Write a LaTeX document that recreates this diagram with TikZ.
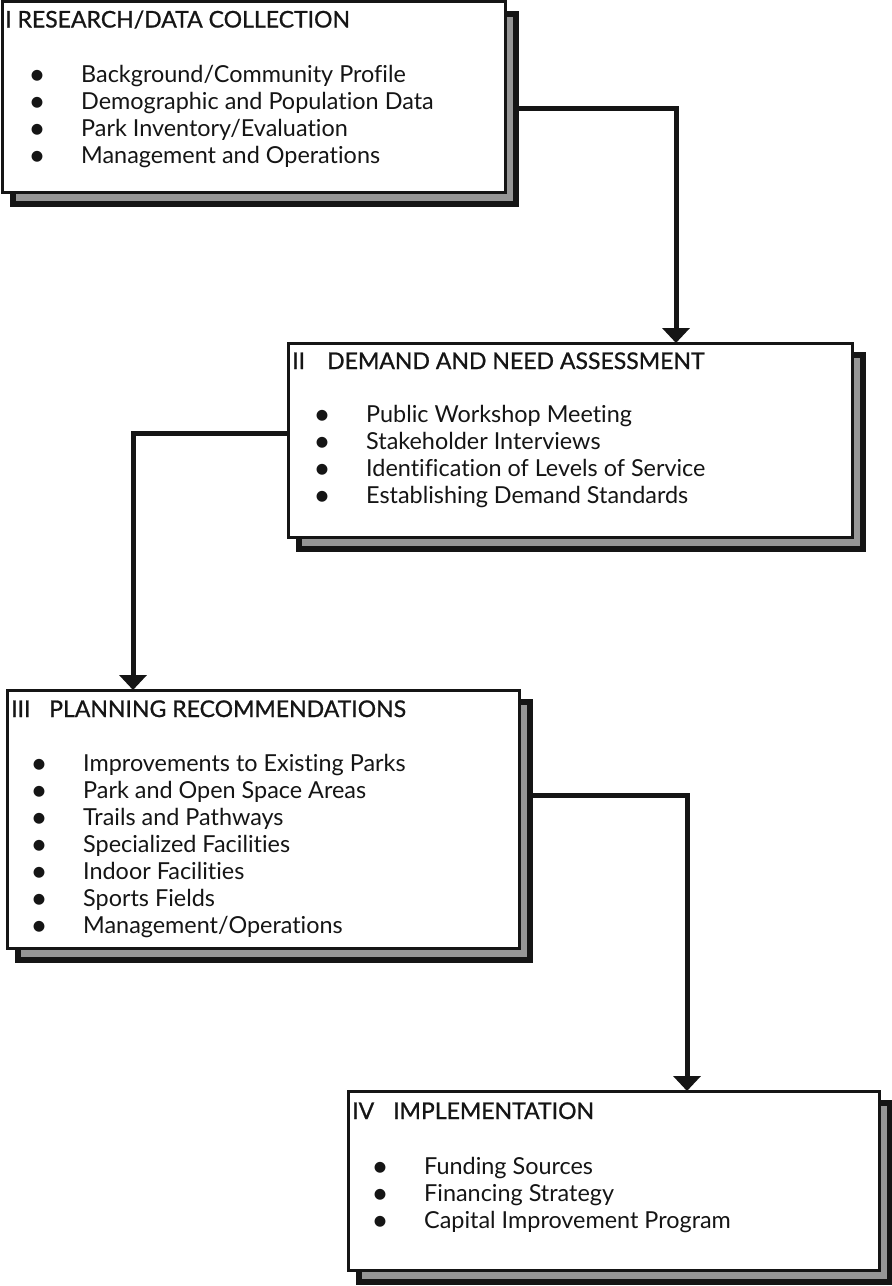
\documentclass[tikz,border=0pt]{standalone}
\usepackage{fontspec}
\setmainfont{Lato}[Ligatures={NoCommon}]
\newfontfamily\ttlfont{Lato}[Ligatures={NoCommon}, FakeBold=0.9]
\usetikzlibrary{arrows.meta}
\pgfdeclarelayer{connlayer}
\pgfdeclarelayer{shadelayer}
\pgfsetlayers{connlayer,shadelayer,main}
\definecolor{shadegray}{HTML}{969696}
\definecolor{ink}{HTML}{151515}
\newcommand\bul{\makebox[0pt]{\raisebox{-2pt}{\scalebox{1.25}{\textbullet}}}\hspace{44pt}}
\newcommand\tabtitle[3][36pt]{\makebox[#1][l]{#2}#3}
\tikzset{
  box/.style={draw=ink, line width=3pt, fill=white, anchor=north west,
    inner sep=0pt, outer sep=0pt},
  shadebox/.style={draw=ink, line width=6pt, fill=shadegray, anchor=north west,
    inner sep=0pt, outer sep=0pt},
  conn/.style={draw=ink, line width=5pt, line join=miter,
    -{Triangle[width=27pt,length=15pt]}},
  ttl/.style={anchor=base west, inner sep=0pt, text=ink,
    font=\ttlfont\fontsize{23}{27}\selectfont},
  lst/.style={anchor=base west, inner sep=0pt, text=ink,
    font=\fontsize{23.4}{27}\selectfont},
}
\begin{document}
\begin{tikzpicture}[x=1pt,y=-1pt]
\useasboundingbox (0,0) rectangle (892,1286);

% boxes
\node[box, minimum width=503pt, minimum height=190.5pt] (b1) at (2,1.5) {};
\node[box, minimum width=564pt, minimum height=194pt] (b2) at (288,343) {};
\node[box, minimum width=512pt, minimum height=258pt] (b3) at (7,690) {};
\node[box, minimum width=531pt, minimum height=179pt] (b4) at (348,1091) {};

% shadows
\begin{pgfonlayer}{shadelayer}
\node[shadebox, minimum width=503pt, minimum height=190.5pt] (b1s) at ([shift={(11,12)}]b1.north west) {};
\node[shadebox, minimum width=564pt, minimum height=194pt] (b2s) at ([shift={(11,12)}]b2.north west) {};
\node[shadebox, minimum width=512pt, minimum height=258pt] (b3s) at ([shift={(11,12)}]b3.north west) {};
\node[shadebox, minimum width=531pt, minimum height=179pt] (b4s) at ([shift={(11,12)}]b4.north west) {};
\end{pgfonlayer}

% titles
\node[ttl] (t1) at ([shift={(3,26)}]b1.north west) {I RESEARCH/DATA COLLECTION};
\node[ttl] (t2) at ([shift={(4,26)}]b2.north west) {\tabtitle[35pt]{II}{DEMAND AND NEED ASSESSMENT}};
\node[ttl] (t3) at ([shift={(4,27)}]b3.north west) {\tabtitle[38pt]{III}{PLANNING RECOMMENDATIONS}};
\node[ttl] (t4) at ([shift={(4,28)}]b4.north west) {\tabtitle[41pt]{IV}{IMPLEMENTATION}};

% item lists
\node[lst] (l1) at ([shift={(35,81)}]b1.north west) {\begin{tabular}[t]{@{}l@{}}
\bul Background/Community Profile\\
\bul Demographic and Population Data\\
\bul Park Inventory/Evaluation\\
\bul Management and Operations
\end{tabular}};
\node[lst] (l2) at ([shift={(34,79)}]b2.north west) {\begin{tabular}[t]{@{}l@{}}
\bul Public Workshop Meeting\\
\bul Stakeholder Interviews\\
\bul Identification of Levels of Service\\
\bul Establishing Demand Standards
\end{tabular}};
\node[lst] (l3) at ([shift={(32,81)}]b3.north west) {\begin{tabular}[t]{@{}l@{}}
\bul Improvements to Existing Parks\\
\bul Park and Open Space Areas\\
\bul Trails and Pathways\\
\bul Specialized Facilities\\
\bul Indoor Facilities\\
\bul Sports Fields\\
\bul Management/Operations
\end{tabular}};
\node[lst] (l4) at ([shift={(32,83)}]b4.north west) {\begin{tabular}[t]{@{}l@{}}
\bul Funding Sources\\
\bul Financing Strategy\\
\bul Capital Improvement Program
\end{tabular}};

% connectors
\begin{pgfonlayer}{connlayer}
\draw[conn] (b1s.east) -| ([shift={(388,0)}]b2.north west);
\draw[conn] ([shift={(0,-7)}]b2.west) -| ([shift={(126,0)}]b3.north west);
\draw[conn] ([shift={(0,-36)}]b3s.east) -| ([shift={(339,0)}]b4.north west);
\end{pgfonlayer}
\end{tikzpicture}
\end{document}
